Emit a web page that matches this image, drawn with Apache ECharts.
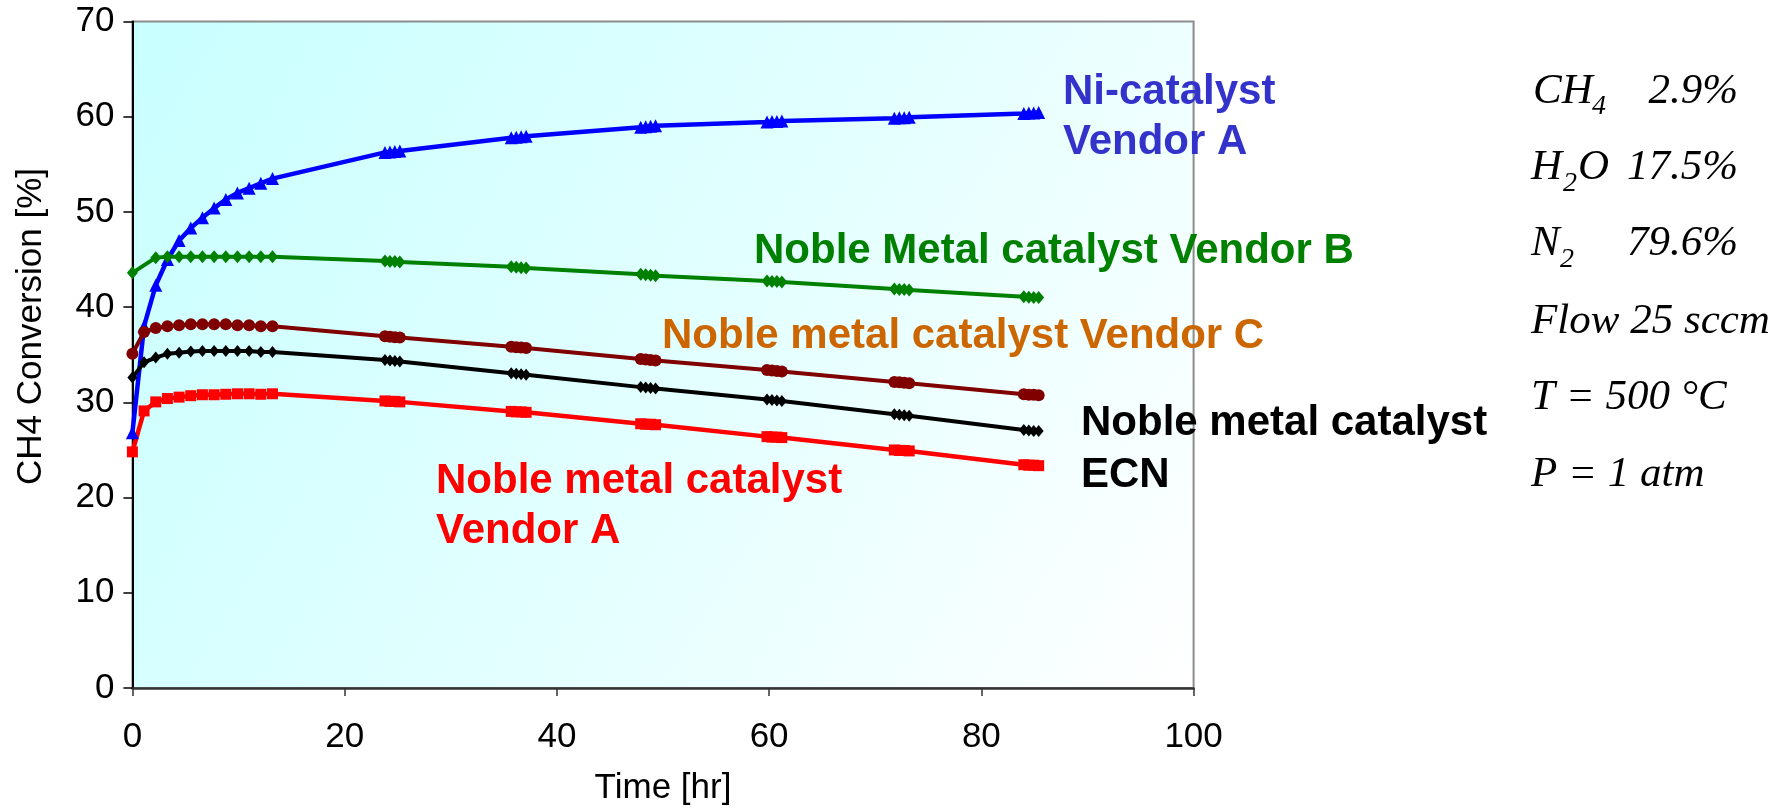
<!DOCTYPE html>
<html>
<head>
<meta charset="utf-8">
<script src="https://cdn.jsdelivr.net/npm/echarts@6/dist/echarts.min.js"></script>
<style>
html,body{margin:0;padding:0;background:#fff;}
#chart{width:1774px;height:811px;}
</style>
</head>
<body>
<div id="chart"></div>
<script>
// ---- Data (time in hr, CH4 conversion in %) ----
const hoursEarly = [0, 1.1, 2.2, 3.3, 4.4, 5.5, 6.6, 7.7, 8.8, 9.9, 11.0, 12.1, 13.2];
const hoursEarlyB = [0, 2.2, 3.3, 4.4, 5.5, 6.6, 7.7, 8.8, 9.9, 11.0, 12.1, 13.2];
const hoursLate = [23.8, 24.27, 24.73, 25.2, 35.7, 36.17, 36.63, 37.1, 47.9, 48.37, 48.83, 49.3,
                   59.8, 60.27, 60.73, 61.2, 71.8, 72.27, 72.73, 73.2, 84.0, 84.47, 84.93, 85.4];

const niVendorA = [26.8, 38.0, 42.3, 45.0, 47.0, 48.3, 49.4, 50.4, 51.3, 52.0, 52.5, 53.0, 53.5,
                   56.25, 56.3, 56.35, 56.4, 57.8, 57.85, 57.9, 57.95, 58.9, 58.95, 59.0, 59.05,
                   59.45, 59.5, 59.5, 59.55, 59.85, 59.9, 59.9, 59.95, 60.35, 60.4, 60.4, 60.45];
const nobleVendorB = [43.6, 45.2, 45.3, 45.3, 45.3, 45.3, 45.3, 45.3, 45.3, 45.3, 45.3, 45.3,
                   44.85, 44.8, 44.8, 44.75, 44.25, 44.2, 44.15, 44.1, 43.45, 43.4, 43.35, 43.3,
                   42.75, 42.7, 42.7, 42.65, 41.9, 41.85, 41.85, 41.8, 41.1, 41.05, 41.0, 41.0];
const nobleVendorC = [35.1, 37.4, 37.8, 38.0, 38.1, 38.2, 38.2, 38.2, 38.2, 38.1, 38.1, 38.0, 38.0,
                   36.95, 36.9, 36.85, 36.8, 35.85, 35.8, 35.75, 35.7, 34.55, 34.5, 34.45, 34.4,
                   33.4, 33.35, 33.3, 33.25, 32.15, 32.1, 32.05, 32.0, 30.85, 30.8, 30.8, 30.75];
const nobleECN = [32.6, 34.2, 34.7, 35.1, 35.2, 35.35, 35.4, 35.4, 35.4, 35.4, 35.4, 35.3, 35.3,
                   34.45, 34.4, 34.35, 34.3, 33.05, 33.0, 32.95, 32.9, 31.6, 31.55, 31.5, 31.45,
                   30.3, 30.25, 30.2, 30.15, 28.75, 28.7, 28.65, 28.6, 27.1, 27.05, 27.0, 27.0];
const nobleVendorA = [24.8, 29.1, 30.05, 30.4, 30.55, 30.7, 30.8, 30.8, 30.85, 30.9, 30.9, 30.85, 30.9,
                   30.15, 30.1, 30.1, 30.05, 29.05, 29.0, 29.0, 28.95, 27.75, 27.7, 27.7, 27.65,
                   26.4, 26.35, 26.35, 26.3, 25.0, 24.95, 24.95, 24.9, 23.45, 23.4, 23.4, 23.35];

const xTicks = [0, 20, 40, 60, 80, 100];
const yTicks = [0, 10, 20, 30, 40, 50, 60, 70];

function pairs(xs, ys) { return xs.map((x, i) => [x, ys[i]]); }

const SANS = "'Liberation Sans', Arial, sans-serif";
const SERIF = "'Liberation Serif', 'Times New Roman', serif";

const chart = echarts.init(document.getElementById('chart'), null, {renderer: 'canvas'});

function lbl(text, x, baseline, color, size, family, style, align) {
  size = size || 42;
  return {
    type: 'text', x: x, y: baseline - 0.35 * size, z: 100,
    style: {
      text: text, x: 0, y: 0,
      font: (style || 'bold') + ' ' + size + 'px ' + (family || SANS),
      fill: color, align: align || 'left', verticalAlign: 'middle'
    }
  };
}

const BLUE_L = '#3333cc', GREEN_L = '#008000', ORANGE_L = '#cc6600';

const graphics = [
  // series labels
  lbl('Ni-catalyst', 1063, 107, BLUE_L),
  lbl('Vendor A', 1063, 157, BLUE_L),
  lbl('Noble Metal catalyst Vendor B', 754, 266, GREEN_L),
  lbl('Noble metal catalyst Vendor C', 662, 351, ORANGE_L),
  lbl('Noble metal catalyst', 1081, 438, '#000000'),
  lbl('ECN', 1081, 490, '#000000'),
  lbl('Noble metal catalyst', 436, 496, '#ff0000'),
  lbl('Vendor A', 436, 546, '#ff0000'),
  // conditions block
  lbl('CH', 1533, 107, '#000', 43, SERIF, 'italic'),
  lbl('4', 1592, 116, '#000', 28, SERIF, 'italic'),
  lbl('2.9%', 1738, 107, '#000', 43, SERIF, 'italic', 'right'),
  lbl('H', 1531, 183, '#000', 43, SERIF, 'italic'),
  lbl('2', 1563, 193, '#000', 28, SERIF, 'italic'),
  lbl('O', 1578, 183, '#000', 43, SERIF, 'italic'),
  lbl('17.5%', 1738, 183, '#000', 43, SERIF, 'italic', 'right'),
  lbl('N', 1531, 259, '#000', 43, SERIF, 'italic'),
  lbl('2', 1560, 269, '#000', 28, SERIF, 'italic'),
  lbl('79.6%', 1738, 259, '#000', 43, SERIF, 'italic', 'right'),
  lbl('Flow 25 sccm', 1531, 337, '#000', 43, SERIF, 'italic'),
  lbl('T = 500 °C', 1531, 413, '#000', 43, SERIF, 'italic'),
  lbl('P = 1 atm', 1531, 490, '#000', 43, SERIF, 'italic'),
  // y-axis title
  {
    type: 'text', x: 31, y: 326.5, rotation: Math.PI / 2, z: 100,
    style: { text: 'CH4 Conversion [%]', x: 0, y: 0, font: '35px ' + SANS,
             fill: '#000', align: 'center', verticalAlign: 'middle' }
  }
];

function lineSeries(name, data, color, symbol, size, width) {
  return {
    name: name, type: 'line', data: data,
    symbol: symbol, symbolSize: size, showSymbol: true,
    lineStyle: { color: color, width: width },
    itemStyle: { color: color, borderWidth: 0 },
    emphasis: { disabled: true },
    animation: false, clip: false
  };
}

const option = {
  animation: false,
  backgroundColor: '#ffffff',
  grid: {
    left: 132.4, right: 580.4, top: 21.5, bottom: 122.5,
    show: true, borderColor: '#8c8c8c', borderWidth: 2,
    backgroundColor: {
      type: 'linear', x: 0, y: 0, x2: 1, y2: 1,
      colorStops: [{offset: 0, color: '#c8ffff'}, {offset: 0.55, color: '#e4ffff'}, {offset: 1, color: '#ffffff'}]
    }
  },
  xAxis: {
    type: 'value', min: xTicks[0], max: xTicks[xTicks.length - 1], interval: 20,
    name: 'Time [hr]', nameLocation: 'middle', nameGap: 83,
    nameTextStyle: { fontFamily: SANS, fontSize: 35, color: '#000' },
    axisLine: { show: true, onZero: false, lineStyle: { color: '#333333', width: 2.5 } },
    axisTick: { show: true, inside: false, length: 8, lineStyle: { color: '#333333', width: 1.5 } },
    axisLabel: { fontFamily: SANS, fontSize: 35, color: '#000', margin: 32 },
    splitLine: { show: false }
  },
  yAxis: {
    type: 'value', min: yTicks[0], max: yTicks[yTicks.length - 1], interval: 10,
    axisLine: { show: true, onZero: false, lineStyle: { color: '#000000', width: 2 } },
    axisTick: { show: true, inside: false, length: 9, lineStyle: { color: '#000000', width: 1.5 } },
    axisLabel: { fontFamily: SANS, fontSize: 35, color: '#000', margin: 18 },
    splitLine: { show: false }
  },
  series: [
    lineSeries('Ni-catalyst Vendor A', pairs(hoursEarly.concat(hoursLate), niVendorA), '#0000ff', 'triangle', 13, 4.5),
    lineSeries('Noble Metal catalyst Vendor B', pairs(hoursEarlyB.concat(hoursLate), nobleVendorB), '#008000', 'diamond', [11, 13], 4),
    lineSeries('Noble metal catalyst Vendor C', pairs(hoursEarly.concat(hoursLate), nobleVendorC), '#800000', 'circle', 12, 4),
    lineSeries('Noble metal catalyst ECN', pairs(hoursEarly.concat(hoursLate), nobleECN), '#000000', 'diamond', [10, 12], 4),
    lineSeries('Noble metal catalyst Vendor A', pairs(hoursEarly.concat(hoursLate), nobleVendorA), '#ff0000', 'rect', 11, 4.5)
  ],
  graphic: graphics
};

chart.setOption(option);
</script>
</body>
</html>
